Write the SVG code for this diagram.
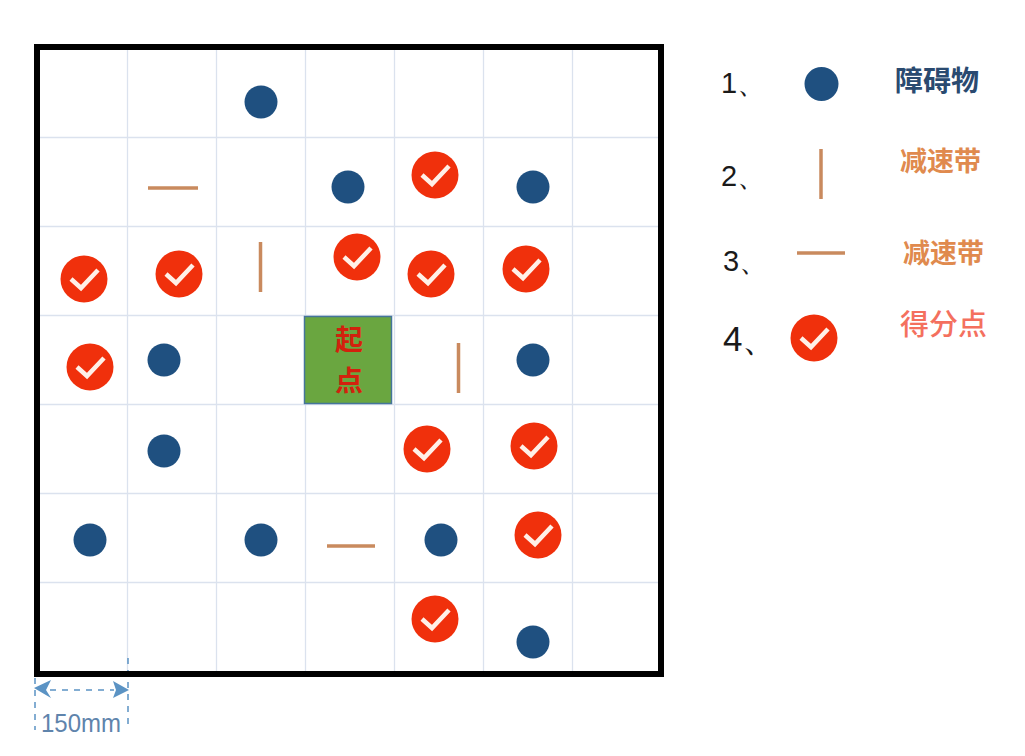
<svg xmlns="http://www.w3.org/2000/svg" width="1025" height="756" viewBox="0 0 1025 756">
<style>
.grid{stroke:#dbe2ee;stroke-width:1.3;fill:none}
.bump{stroke:#c98a5e;stroke-width:3.5;fill:none}
.obs{fill:#1f5080}
.score{fill:#f0300c}
.chk{fill:none;stroke:#fff0e8;stroke-width:4.5}
.num{font-family:"Liberation Sans",Arial,sans-serif;fill:#1a1a1a}
.cjk{font-family:"Noto Sans CJK SC","Liberation Sans",sans-serif;font-weight:700;font-size:27px}
.dim{stroke:#5b93c4;stroke-width:1.5;stroke-dasharray:6 6;fill:none}
</style>
<defs>
<g id="check"><circle class="score" r="23.5"/><path class="chk" d="M-13 0L-3 9L14-9"/></g>
</defs>
<rect width="1025" height="756" fill="#fff"/>
<g id="connectors">
<path class="grid" d="M127.500 48V673M216.500 48V673M305.500 48V673M394.500 48V673M483.500 48V673M572.500 48V673M38 137.500H660M38 226.500H660M38 315.500H660M38 404.500H660M38 493.500H660M38 582.500H660"/>
<path class="dim" d="M35 678V730M128 658V730M50 690H114"/>
<path d="M34 688L51 680L46 690L51 698ZM129 690L113 681L116 690L113 698Z" fill="#5b93c4"/>
</g>
<rect id="board" x="37" y="47" width="624" height="627" fill="none" stroke="#000" stroke-width="6"/>
<g id="start">
<rect x="304.500" y="316.500" width="87" height="87" fill="#6aa640" stroke="#45759a" stroke-width="1.500"/>
<text x="349" y="350" text-anchor="middle" font-family="Noto Sans CJK SC,sans-serif" font-size="28" font-weight="700" fill="#d3210d">起</text>
<text x="349" y="391" text-anchor="middle" font-family="Noto Sans CJK SC,sans-serif" font-size="28" font-weight="700" fill="#d3210d">点</text>
</g>
<g id="obstacles">
<circle class="obs" cx="261" cy="102" r="16.500"/><circle class="obs" cx="348" cy="187" r="16.500"/><circle class="obs" cx="533" cy="187" r="16.500"/>
<circle class="obs" cx="164" cy="360" r="16.500"/><circle class="obs" cx="533" cy="360" r="16.500"/><circle class="obs" cx="164" cy="451" r="16.500"/>
<circle class="obs" cx="90" cy="540" r="16.500"/><circle class="obs" cx="261" cy="540" r="16.500"/><circle class="obs" cx="441" cy="540" r="16.500"/><circle class="obs" cx="533" cy="642" r="16.500"/>
</g>
<g id="bumps">
<path class="bump" d="M148 188H198M260.500 242V292M458.500 343V393M327 546H375"/>
</g>
<g id="score-points">
<use href="#check" x="435" y="175"/><use href="#check" x="84" y="279"/><use href="#check" x="179" y="274"/><use href="#check" x="357" y="257"/><use href="#check" x="431" y="274"/><use href="#check" x="526" y="269"/><use href="#check" x="90" y="367"/><use href="#check" x="427" y="449"/><use href="#check" x="534" y="446"/><use href="#check" x="538" y="535"/><use href="#check" x="435" y="619"/>
</g>
<g id="dimension-label"><text x="41" y="732" font-family="Liberation Sans,sans-serif" font-size="26" fill="#5f84ac" textLength="80" lengthAdjust="spacingAndGlyphs">150mm</text></g>
<g id="legend-1"><text class="num" x="721" y="93" font-size="29">1、</text><circle class="obs" cx="821.500" cy="84" r="17"/><text class="cjk" x="895" y="91" fill="#2a4a70" style="font-size:28px">障碍物</text></g>
<g id="legend-2"><text class="num" x="721" y="186" font-size="29">2、</text><path class="bump" d="M821 149V199"/><text class="cjk" x="900" y="171" fill="#e08a4e">减速带</text></g>
<g id="legend-3"><text class="num" x="723" y="271" font-size="29">3、</text><path class="bump" d="M797 253H845"/><text class="cjk" x="903" y="263" fill="#e08a4e">减速带</text></g>
<g id="legend-4"><text class="num" x="723" y="351" font-size="35">4、</text><use href="#check" x="814" y="338"/><text class="cjk" x="900" y="335" fill="#f4705e" style="font-size:29px;font-weight:500">得分点</text></g>
</svg>
